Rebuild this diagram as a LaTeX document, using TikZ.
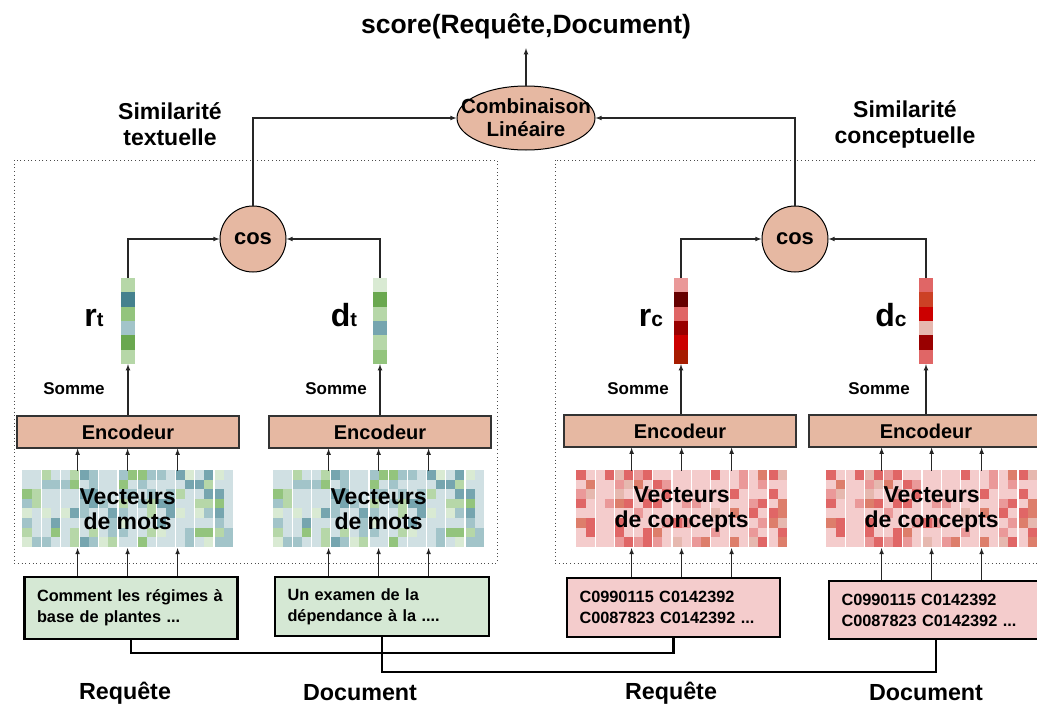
\documentclass[tikz,border=0pt]{standalone}
\usepackage{fontspec}
\setmainfont{Liberation Sans}
\usetikzlibrary{shapes.geometric,arrows}
\definecolor{brun}{HTML}{E6B8A2}
\definecolor{vertclair}{HTML}{D5E8D4}
\definecolor{roseclair}{HTML}{F4CCCC}
% palette des vecteurs
\definecolor{gBase}{HTML}{D0E0E3}
\definecolor{gSage}{HTML}{B6D7A8}
\definecolor{gMoss}{HTML}{93C47D}
\definecolor{gLeaf}{HTML}{6AA84F}
\definecolor{gMint}{HTML}{D9EAD3}
\definecolor{gMist}{HTML}{A2C4C9}
\definecolor{gTeal}{HTML}{76A5AF}
\definecolor{gDeep}{HTML}{45818E}
\definecolor{rBase}{HTML}{F4CCCC}
\definecolor{rBlush}{HTML}{E6B8AF}
\definecolor{rRose}{HTML}{EA9999}
\definecolor{rCoral}{HTML}{E06666}
\definecolor{rSalmon}{HTML}{DD7E6B}
\definecolor{rBrick}{HTML}{CC4125}
\definecolor{rScarlet}{HTML}{CC0000}
\definecolor{rWine}{HTML}{990000}
\definecolor{rMaroon}{HTML}{660000}
\definecolor{rRust}{HTML}{A61C00}
\colorlet{gcell0}{gBase}\colorlet{gcell1}{gBase}\colorlet{gcell2}{gBase}
\colorlet{gcell3}{gBase}\colorlet{gcell4}{gBase}\colorlet{gcell5}{gBase}
\colorlet{gcell6}{gMist}\colorlet{gcell7}{gSage}\colorlet{gcell8}{gMist}
\colorlet{gcell9}{gTeal}\colorlet{gcell10}{gMint}\colorlet{gcell11}{gMoss}
\colorlet{rcell0}{rBase}\colorlet{rcell1}{rBase}\colorlet{rcell2}{rBase}
\colorlet{rcell3}{rBase}\colorlet{rcell4}{rBase}\colorlet{rcell5}{rBase}
\colorlet{rcell6}{rBase}\colorlet{rcell7}{rBlush}\colorlet{rcell8}{rRose}
\colorlet{rcell9}{rCoral}\colorlet{rcell10}{rSalmon}\colorlet{rcell11}{rRose}
\tikzset{%
  every node/.style = {font=\bfseries},
  arr/.style        = {-latex, line width=1.1pt, draw=black!85},
  link/.style       = {line width=2.2pt},
  frame/.style      = {draw=black!70, line width=0.9pt, dash pattern=on 0.9pt off 2.8pt},
  simnode/.style    = {draw, line width=1pt, fill=brun},
  cosnode/.style    = {simnode, circle, minimum size=66, inner sep=0pt,%
                       font=\bfseries\fontsize{22}{24}\selectfont},
  combnode/.style   = {simnode, ellipse, minimum width=138, minimum height=64, inner sep=0pt},
  combtext/.style   = {align=center, font=\bfseries\fontsize{20.5}{23}\selectfont},
  simlabel/.style   = {align=center, font=\bfseries\fontsize{23}{26}\selectfont},
  encnode/.style    = {rectangle, draw=black!80, line width=1.3pt, fill=brun,%
                       minimum width=222, minimum height=32,%
                       font=\bfseries\fontsize{20}{22}\selectfont},
  matnode/.style    = {rectangle, minimum width=211.2, minimum height=76.8, inner sep=0pt,%
                       align=center, font=\bfseries\fontsize{23}{25}\selectfont},
  vecnode/.style    = {rectangle, minimum width=14, minimum height=86, inner sep=0pt},
  sumnode/.style    = {font=\bfseries\fontsize{17}{19}\selectfont},
  sublabel/.style   = {anchor=base, font=\bfseries\fontsize{32}{34}\selectfont},
  txtnode/.style    = {rectangle, draw, line width=2.2pt, inner sep=0pt, align=left,%
                       font=\bfseries\fontsize{16.3}{21}\selectfont},
  lblnode/.style    = {font=\bfseries\fontsize{23.3}{25}\selectfont}
}
% grille de vecteurs (coin haut gauche, palette, graine)
\newcommand{\cellgrid}[4]{%
  \pgfmathsetseed{#4}
  \foreach \col in {0,...,21}
    \foreach \row in {0,...,7} {
      \pgfmathrandominteger{\pick}{0}{11}
      \fill[fill=#3\pick] ({#1+\col*9.6},{#2+\row*9.6}) rectangle ++(9.6,9.6);
    }
  \foreach \col in {2,4,...,20}
    \draw[white, line width=1.2pt] ({#1+\col*9.6},#2) -- ++(0,76.8);
}
% vecteur en colonne (centre x, haut y, couleurs)
\newcommand{\vecstrip}[3]{%
  \foreach \tone [count=\k from 0] in {#3}
    \fill[fill=\tone] ({#1-7},{#2+\k*14.33}) rectangle ++(14,14.33);
}

\begin{document}
\begin{tikzpicture}[x=1pt, y=-1pt]
  \useasboundingbox (0,0) rectangle (1037,704);
  \cellgrid{22}{470}{gcell}{11}
  \cellgrid{273}{470}{gcell}{11}
  \cellgrid{576}{470}{rcell}{5}
  \cellgrid{826}{470}{rcell}{5}
  \vecstrip{128}{278}{gSage,gDeep,gMoss,gMist,gLeaf,gSage}
  \vecstrip{380}{278}{gMint,gLeaf,gSage,gTeal,gSage,gMoss}
  \vecstrip{681}{278}{rRose,rMaroon,rCoral,rWine,rScarlet,rRust}
  \vecstrip{926}{278}{rCoral,rBrick,rScarlet,rBlush,rWine,rCoral}

  \node[font=\bfseries\fontsize{26.5}{28}\selectfont] (title) at (526,26) {score(Requête,Document)};
  \node[combnode, label={[combtext]center:Combinaison\\Linéaire}] (comb) at (526,118) {};
  \node[simlabel] (simT) at (170,124) {Similarité\\textuelle};
  \node[simlabel] (simC) at (905,124) {Similarité\\conceptuelle};

  \draw[frame] (14,160) rectangle (497,563);
  \draw[frame] (555,160) rectangle (1045,563);

  \node[cosnode] (cosT) at (253,239) {cos};
  \node[cosnode] (cosC) at (795,239) {cos};

  \node[vecnode] (vecRT) at (128,321) {};
  \node[vecnode] (vecDT) at (380,321) {};
  \node[vecnode] (vecRC) at (681,321) {};
  \node[vecnode] (vecDC) at (926,321) {};
  \node[sublabel] (labRT) at (94,326) {r{\fontsize{20}{22}\selectfont t}};
  \node[sublabel] (labDT) at (344,326) {d{\fontsize{20}{22}\selectfont t}};
  \node[sublabel] (labRC) at (651,326) {r{\fontsize{21}{22}\selectfont c}};
  \node[sublabel] (labDC) at (891,326) {d{\fontsize{21}{22}\selectfont c}};

  \node[sumnode] (sumRT) at (74,389) {Somme};
  \node[sumnode] (sumDT) at (336,389) {Somme};
  \node[sumnode] (sumRC) at (638,389) {Somme};
  \node[sumnode] (sumDC) at (879,389) {Somme};

  \node[encnode] (encRT) at (128,432) {Encodeur};
  \node[encnode] (encDT) at (380,432) {Encodeur};
  \node[encnode, minimum width=232] (encRC) at (680,431) {Encodeur};
  \node[encnode, minimum width=234] (encDC) at (926,431) {Encodeur};

  \node[matnode] (matRT) at (127.6,509.4) {Vecteurs\\de mots};
  \node[matnode] (matDT) at (378.6,509.4) {Vecteurs\\de mots};
  \node[matnode] (matRC) at (681.6,509.4) {Vecteurs\\de concepts};
  \node[matnode] (matDC) at (931.6,509.4) {Vecteurs\\de concepts};

  \node[txtnode, fill=vertclair, minimum width=213, minimum height=62, text width=188]
    (txtRT) at (131,608) {Comment les régimes à\\base de plantes ...};
  \node[txtnode, fill=vertclair, minimum width=214, minimum height=59, text width=189]
    (txtDT) at (382,606.5) {Un examen de la\\dépendance à la ....};
  \node[txtnode, fill=roseclair, minimum width=213, minimum height=59, text width=188]
    (txtRC) at (673.5,607.5) {C0990115 C0142392\\C0087823 C0142392 ...};
  \node[txtnode, fill=roseclair, minimum width=214, minimum height=58, text width=189]
    (txtDC) at (936,610) {C0990115 C0142392\\C0087823 C0142392 ...};

  \node[lblnode] (lblRT) at (125,693) {Requête};
  \node[lblnode] (lblDT) at (360,693) {Document};
  \node[lblnode] (lblRC) at (671,693) {Requête};
  \node[lblnode] (lblDC) at (926,693) {Document};

  % connexions
  \draw[arr, shorten >=6pt] (comb.north) -- (title.south);
  \draw[arr] (cosT.north) |- (comb.west);
  \draw[arr] (cosC.north) |- (comb.east);
  \draw[arr] (vecRT.north) |- (cosT.west);
  \draw[arr] (vecDT.north) |- (cosT.east);
  \draw[arr] (vecRC.north) |- (cosC.west);
  \draw[arr] (vecDC.north) |- (cosC.east);
  \foreach \v/\e in {vecRT/encRT, vecDT/encDT, vecRC/encRC, vecDC/encDC}
    \draw[arr] (\e.north -| \v.south) -- (\v.south);
  \foreach \m/\e/\t in {matRT/encRT/txtRT, matDT/encDT/txtDT, matRC/encRC/txtRC, matDC/encDC/txtDC}
    \foreach \dx in {-50,0,50} {
      \draw[arr] ([xshift=\dx]\m.north) -- ([xshift=\dx]\m.north |- \e.south);
      \draw[arr] ([xshift=\dx]\m.south |- \t.north) -- ([xshift=\dx]\m.south);
    }
  \draw[link] (txtRT.south) -- ++(0,13) -| (txtRC.south);
  \draw[link] (txtDT.south) -- ++(0,35) -| (txtDC.south);
\end{tikzpicture}
\end{document}
